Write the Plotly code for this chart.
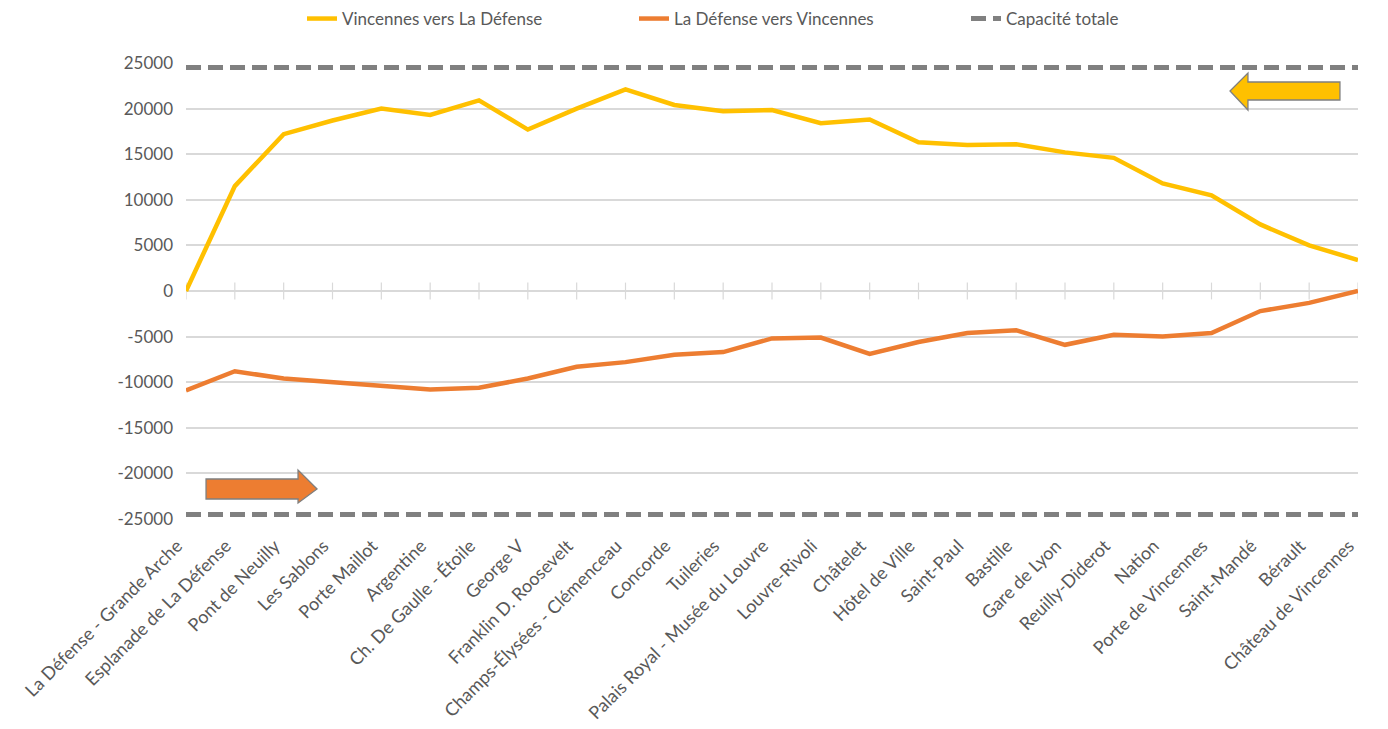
import plotly.graph_objects as go

stations = [
    "La Défense - Grande Arche", "Esplanade de La Défense", "Pont de Neuilly",
    "Les Sablons", "Porte Maillot", "Argentine", "Ch. De Gaulle - Étoile",
    "George V", "Franklin D. Roosevelt", "Champs-Élysées - Clémenceau",
    "Concorde", "Tuileries", "Palais Royal - Musée du Louvre", "Louvre-Rivoli",
    "Châtelet", "Hôtel de Ville", "Saint-Paul", "Bastille", "Gare de Lyon",
    "Reuilly-Diderot", "Nation", "Porte de Vincennes", "Saint-Mandé",
    "Bérault", "Château de Vincennes",
]
vincennes_vers_defense = [
    0, 11500, 17200, 18700, 20000, 19300, 20900, 17700, 20000, 22100,
    20400, 19700, 19850, 18400, 18800, 16300, 16000, 16100, 15200, 14600,
    11800, 10500, 7300, 5000, 3400,
]
defense_vers_vincennes = [
    -10900, -8800, -9600, -10000, -10400, -10800, -10600, -9600, -8300, -7800,
    -7000, -6700, -5200, -5100, -6900, -5600, -4600, -4300, -5900, -4800,
    -5000, -4600, -2200, -1300, 0,
]
capacite = 24500
y_ticks = [-25000, -20000, -15000, -10000, -5000, 0, 5000, 10000, 15000, 20000, 25000]

YELLOW = "#FFC000"
ORANGE = "#ED7D31"
GREY = "#808080"
TXT = "#595959"
GRID = "#D9D9D9"

W, H = 1388, 729
OFF = 8  # marge du <body> de la page
L, T = 186 - OFF, 63 - OFF
R, B = W - (1358 - OFF), H - (519 - OFF)


def px(x, y):
    """pixel position in the screenshot -> paper coords"""
    x, y = x - OFF, y - OFF
    return (x - L) / (W - L - R), (H - B - y) / (H - T - B)


def arrow_path(points):
    pts = [px(x, y) for x, y in points]
    return "M " + " L ".join(f"{a:.4f},{b:.4f}" for a, b in pts) + " Z"


fig = go.Figure()

# petites graduations sur l'axe horizontal (y = 0)
fig.add_trace(go.Scatter(
    x=stations, y=[0] * len(stations), mode="markers",
    marker=dict(symbol="line-ns", size=12, line=dict(width=1.2, color=GRID)),
    showlegend=False, hoverinfo="skip",
))

fig.add_trace(go.Scatter(
    x=stations, y=vincennes_vers_defense, mode="lines",
    name="Vincennes vers La Défense", line=dict(color=YELLOW, width=4.5),
))
fig.add_trace(go.Scatter(
    x=stations, y=defense_vers_vincennes, mode="lines",
    name="La Défense vers Vincennes", line=dict(color=ORANGE, width=4.5),
))
fig.add_trace(go.Scatter(
    x=stations, y=[capacite] * len(stations), mode="lines",
    name="Capacité totale", legendgroup="cap",
    line=dict(color=GREY, width=5, dash="15px,7px"),
))
fig.add_trace(go.Scatter(
    x=stations, y=[-capacite] * len(stations), mode="lines",
    name="Capacité totale", legendgroup="cap", showlegend=False,
    line=dict(color=GREY, width=5, dash="15px,7px"),
))

# flèches de sens
yellow_arrow = [(1230, 91), (1248, 73), (1248, 82), (1340, 82), (1340, 100),
                (1248, 100), (1248, 110)]
orange_arrow = [(206, 479), (298, 479), (298, 470), (317, 489), (298, 503),
                (298, 499), (206, 499)]
for pts, col in [(yellow_arrow, YELLOW), (orange_arrow, ORANGE)]:
    fig.add_shape(type="path", xref="paper", yref="paper", path=arrow_path(pts),
                  fillcolor=col, line=dict(color="#7F7F7F", width=1.3), layer="above")

fig.update_layout(
    width=W, height=H,
    margin=dict(l=L, r=R, t=T, b=B, autoexpand=False),
    paper_bgcolor="white", plot_bgcolor="white",
    font=dict(family="Lato", size=17, color=TXT),
    legend=dict(orientation="h", xref="container", yref="container",
                x=(302 - OFF) / W, y=1 - (19 - OFF) / H,
                xanchor="left", yanchor="middle",
                font=dict(size=17, color=TXT), traceorder="normal",
                entrywidth=287),
    showlegend=True,
)
fig.update_xaxes(
    type="category", range=[0, len(stations) - 1], tickangle=-45,
    showgrid=False, zeroline=False, showline=False, ticks="", automargin=False,
    ticklabelshift=-9, ticklabelstandoff=12,
    tickfont=dict(size=18, color=TXT),
)
fig.update_yaxes(
    range=[-25000, 25000], tickvals=y_ticks, ticktext=[str(v) for v in y_ticks],
    showgrid=True, gridcolor=GRID, automargin=False,
    gridwidth=1.5, zeroline=True, zerolinecolor=GRID, zerolinewidth=1.5,
    showline=False, ticks="", ticklabelstandoff=12,
    tickfont=dict(size=17, color=TXT),
)

fig.write_html("out.html")
